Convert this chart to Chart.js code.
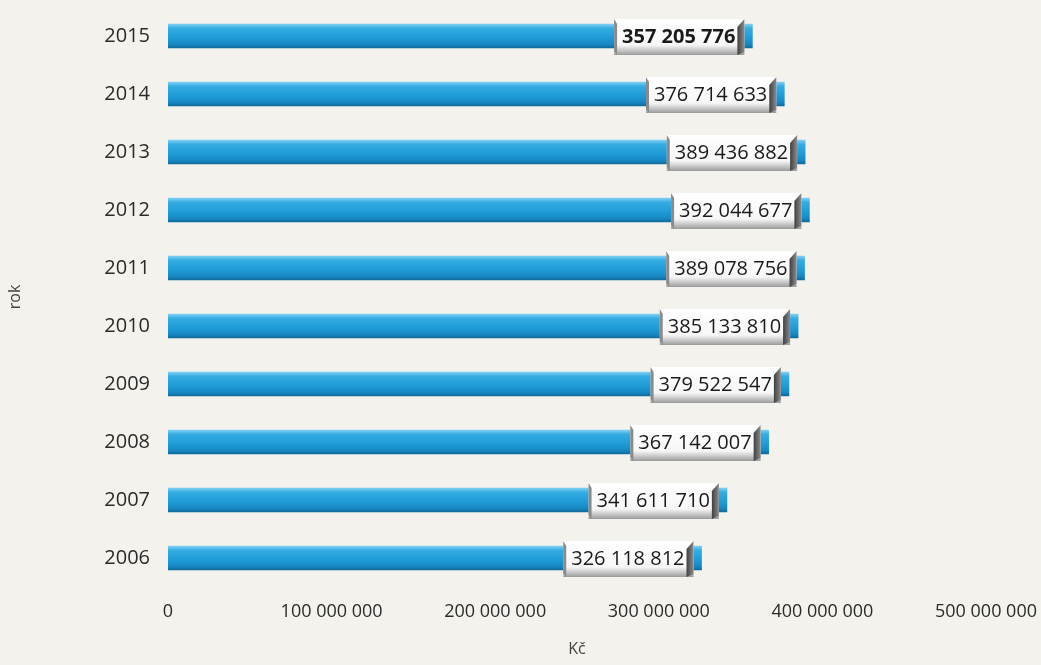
<!DOCTYPE html>
<html>
<head>
<meta charset="utf-8">
<script src="https://cdn.jsdelivr.net/npm/chart.js@4/dist/chart.umd.min.js"></script>
<style>
  html, body { margin: 0; padding: 0; background: #f3f2ed; }
  #wrap { width: 1041px; height: 665px; position: relative; }
</style>
</head>
<body>
<div id="wrap"><canvas id="c"></canvas></div>
<script>
const years = ['2015','2014','2013','2012','2011','2010','2009','2008','2007','2006'];
const amounts = [357205776, 376714633, 389436882, 392044677, 389078756, 385133810, 379522547, 367142007, 341611710, 326118812];
const xTicks = [0, 100000000, 200000000, 300000000, 400000000, 500000000];

const FONT = '"Open Sans", Lato, sans-serif';

function fmt(n) {
  return String(Math.round(n)).replace(/\B(?=(\d{3})+(?!\d))/g, ' ');
}

// value boxes drawn just inside the end of each bar
const valueBoxes = {
  id: 'valueBoxes',
  afterDatasetsDraw(chart) {
    const {ctx} = chart;
    const meta = chart.getDatasetMeta(0);
    ctx.save();
    meta.data.forEach((bar, i) => {
      const bold = i === 0;
      ctx.font = (bold ? 'bold ' : '') + '20px ' + FONT;
      const text = fmt(amounts[i]);
      const tw = ctx.measureText(text).width;
      const right = bar.x - 8;
      const left = right - tw - 17;
      const top = bar.y - 17, h = 36;
      // body
      const g = ctx.createLinearGradient(0, top, 0, top + h);
      g.addColorStop(0, '#ffffff');
      g.addColorStop(0.72, '#f7f7f7');
      g.addColorStop(0.88, '#c4c4c4');
      g.addColorStop(1, '#9a9a9a');
      ctx.fillStyle = g;
      ctx.fillRect(left, top, right - left, h);
      // left edge
      ctx.fillStyle = '#8a8a8a';
      ctx.beginPath();
      ctx.moveTo(left, top); ctx.lineTo(left + 3, top + 5); ctx.lineTo(left + 3, top + h); ctx.lineTo(left, top + h - 4);
      ctx.closePath(); ctx.fill();
      // right edge
      const eg = ctx.createLinearGradient(right - 7, 0, right, 0);
      eg.addColorStop(0, '#3f3f3f');
      eg.addColorStop(1, '#8c8c8c');
      ctx.fillStyle = eg;
      ctx.beginPath();
      ctx.moveTo(right, top); ctx.lineTo(right - 7, top + 8); ctx.lineTo(right - 7, top + h); ctx.lineTo(right, top + h - 3);
      ctx.closePath(); ctx.fill();
      ctx.fillStyle = '#1a1a1a';
      ctx.textAlign = 'right';
      ctx.textBaseline = 'middle';
      ctx.fillText(text, right - 9, bar.y + 1);
    });
    ctx.restore();
  }
};

function barFill(context) {
  const chart = context.chart;
  const ys = chart.scales.y;
  if (!ys || context.dataIndex === undefined) return '#1f9bd7';
  const y = ys.getPixelForValue(context.dataIndex);
  if (!Number.isFinite(y)) return '#1f9bd7';
  const g = chart.ctx.createLinearGradient(0, y - 12, 0, y + 12);
  g.addColorStop(0, '#7fd0f2');
  g.addColorStop(0.18, '#35ace2');
  g.addColorStop(0.6, '#1e9ad6');
  g.addColorStop(0.85, '#1787c2');
  g.addColorStop(1, '#0f6a9c');
  return g;
}

new Chart(document.getElementById('c'), {
  type: 'bar',
  data: {
    labels: years,
    datasets: [{
      data: amounts,
      backgroundColor: barFill,
      borderWidth: 0,
      barThickness: 24
    }]
  },
  options: {
    indexAxis: 'y',
    responsive: true,
    maintainAspectRatio: false,
    animation: false,
    layout: { padding: { top: 7, right: 55, left: 0, bottom: 0 } },
    plugins: {
      legend: { display: false },
      tooltip: { enabled: false }
    },
    scales: {
      x: {
        min: 0, max: 500000000,
        afterBuildTicks(scale) { scale.ticks = xTicks.map(v => ({value: v})); },
        afterFit(scale) {
          scale.height = 78;
          scale.paddingLeft = 0;
          scale.paddingRight = 0;
        },
        grid: { display: false, drawTicks: false },
        border: { display: false },
        ticks: {
          padding: 14,
          color: '#2b2b2b',
          font: { size: 18, family: FONT },
          callback: v => fmt(v)
        },
        title: {
          display: true, text: 'Kč', color: '#444',
          font: { size: 16, family: FONT },
          padding: { top: 8, bottom: 6 }
        }
      },
      y: {
        afterFit(scale) {
          scale.width = 168;
          scale.paddingTop = 0;
          scale.paddingBottom = 0;
        },
        grid: { display: false, drawTicks: false },
        border: { display: false },
        ticks: {
          padding: 18,
          color: '#2b2b2b',
          font: { size: 20, family: FONT }
        },
        title: {
          display: true, text: 'rok', color: '#444',
          font: { size: 16, family: FONT },
          padding: { top: 6, bottom: 0 }
        }
      }
    }
  },
  plugins: [valueBoxes]
});
</script>
</body>
</html>
